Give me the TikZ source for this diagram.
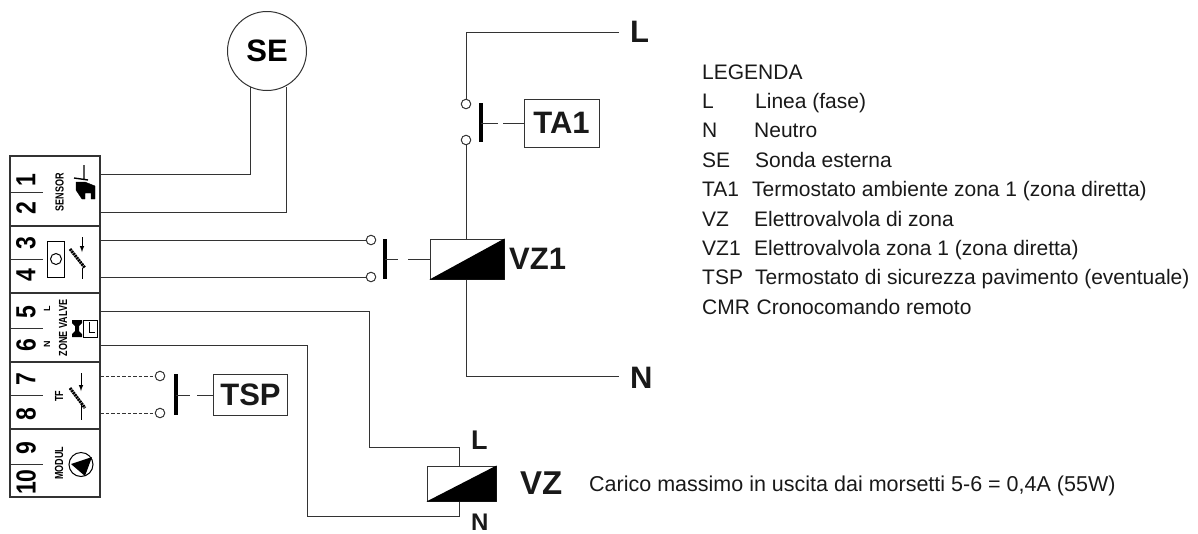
\documentclass[tikz,border=0pt]{standalone}
\usepackage{fontspec}
\setmainfont{Liberation Sans}
\newcommand{\dg}[1]{\scalebox{1}[1.2]{#1}}
\newcommand{\ts}[1]{\scalebox{1}[1.3]{#1}}
\begin{document}
\begin{tikzpicture}[x=1pt,y=-1pt,
  wire/.style={draw=black!80,line width=1pt},
  dwire/.style={draw=black!80,line width=1pt,dash pattern=on 3.5pt off 2pt},
  frame/.style={draw=black!80,line width=1.3pt},
  contact/.style={circle,draw=black!80,line width=1pt,fill=white,minimum size=9.5pt,inner sep=0pt},
  bar/.style={line width=3.5pt,black},
  big/.style={font=\fontsize{31}{31}\selectfont\bfseries,inner sep=0pt,anchor=base west,text=black!90},
  tagbox/.style={draw=black!80,line width=1pt,inner sep=0pt,font=\fontsize{31}{31}\selectfont\bfseries,text=black!90},
  coil/.style={draw=black!80,line width=1pt,inner sep=0pt,fill=white},
  leg/.style={font=\fontsize{21}{21}\selectfont,inner sep=0pt,anchor=base west,text=black!90},
  digit/.style={font=\fontsize{23}{23}\selectfont\bfseries,rotate=90,inner sep=0pt,text=black},
  tiny/.style={font=\fontsize{9}{9}\selectfont\bfseries,rotate=90,inner sep=0pt,text=black}]
\useasboundingbox (0,0) rectangle (1198,533);
% terminal block
\node[frame,minimum width=90pt,minimum height=341pt,inner sep=0pt] (block) at (55,326.5) {};
\foreach \y in {226,293,362,429} \draw[frame] (10,\y) -- (100,\y);
\foreach \y in {192,259,328,395,464} \draw[frame,line width=1pt] (10,\y) -- (43,\y);
\node[digit] (d1) at (26,180) {\dg{1}};
\node[digit] (d2) at (26,208) {\dg{2}};
\node[digit] (d3) at (26,243) {\dg{3}};
\node[digit] (d4) at (26,275) {\dg{4}};
\node[digit] (d5) at (26,312) {\dg{5}};
\node[digit] (d6) at (26,345) {\dg{6}};
\node[digit] (d7) at (26,379) {\dg{7}};
\node[digit] (d8) at (26,414) {\dg{8}};
\node[digit] (d9) at (26,448) {\dg{9}};
\node[digit] (d10) at (26,482) {\dg{10}};
% block symbols
\node[tiny] (t1) at (59.5,192) {\ts{SENSOR}};
\node[tiny] (t3) at (47,309) {L};
\node[tiny] (t4) at (47,344) {N};
\node[tiny] (t5) at (63,328) {\ts{ZONE VALVE}};
\node[tiny] (t7) at (59,396) {\ts{TF}};
\node[tiny] (t9) at (59,463) {\ts{MODUL}};
\draw[fill=black] (76,186) -- (76,182) -- (85,182) -- (95,186) -- (95,199) -- (91,199) -- (91,193) -- (85,193) -- (85,199) -- (82,199) -- (76,190) -- cycle;
\draw[line width=1.4pt] (84,165) -- (84,180) (74,178) -- (88,180);
\draw[line width=1pt] (47,241) rectangle (64,277);
\draw[line width=1pt] (56,259) circle (5.5);
\draw[line width=1pt] (82,268) -- (82,279);
\draw[line width=3pt,dash pattern=on 2pt off 0.7pt] (70,249) -- (85,268);
\draw[line width=1pt,-latex] (82,237) -- (82,252);
\draw[line width=1pt] (81,405) -- (81,420);
\draw[line width=3pt,dash pattern=on 2pt off 0.7pt] (70,388) -- (85,408);
\draw[line width=1pt,-latex] (81,373) -- (81,391);
\draw[line width=1pt] (83,320) rectangle (97,337);
\draw[line width=1pt] (89,322) -- (89,332) -- (95,332);
\fill[black] (72,320) -- (82,320) -- (82,323) -- (79,326) -- (79,331) -- (82,334) -- (82,337) -- (72,337) -- (72,334) -- (75,331) -- (75,326) -- (72,323) -- cycle;
\draw[line width=1pt] (81,464.5) circle (12);
\fill[black] (71,464) -- (92,457) -- (85,476) -- cycle;
% SE
\node[circle,draw=black!80,line width=1pt,minimum size=79pt,inner sep=0pt,font=\fontsize{31}{31}\selectfont\bfseries] (se) at (267,51) {SE};
\coordinate (s1) at (100,174);
\coordinate (s2) at (100,212);
\draw[wire] (s1) -- (250,174) -- (250,87);
\draw[wire] (s2) -- (286,212) -- (286,87);
% VZ1
\node[coil,minimum width=74pt,minimum height=40pt] (vz1) at (467,259) {};
\fill[black] (vz1.south west) -- (vz1.north east) -- (vz1.south east) -- cycle;
\node[big] (vz1t) at (509,269) {VZ1};
\node[contact] (c3) at (371,240) {};
\node[contact] (c4) at (371,277) {};
\draw[wire] (100,240) -- (c3);
\draw[wire] (100,277) -- (c4);
\draw[bar] (385,239) -- (385,279);
\draw[wire] (385,259) -- (398,259);
\draw[wire] (408,259) -- (vz1.west);
% TA1
\node[tagbox,minimum width=75pt,minimum height=48pt] (ta1) at (561.5,123) {TA1};
\node[contact] (c1) at (466,104) {};
\node[contact] (c2) at (466,140) {};
\coordinate (lend) at (619,32);
\draw[wire] (lend) -- (466,32) -- (c1);
\draw[wire] (c2) -- (vz1.north -| c2);
\draw[bar] (481,103) -- (481,142);
\draw[wire] (481,123) -- (498,123);
\draw[wire] (503,123) -- (ta1.west);
\node[big] (ll) at (630,42) {L};
\coordinate (nend) at (619,376);
\draw[wire] (vz1.south -| c2) -- (466,376) -- (nend);
\node[big] (nn) at (630,388) {N};
% TSP
\node[tagbox,minimum width=74pt,minimum height=41pt] (tsp) at (250.5,395) {TSP};
\node[contact] (c7) at (160,376) {};
\node[contact] (c8) at (160,413) {};
\draw[dwire] (100,376) -- (c7);
\draw[dwire] (100,413) -- (c8);
\draw[bar] (176,374) -- (176,415);
\draw[wire] (176,395) -- (190,395);
\draw[wire] (197,395) -- (tsp.west);
% VZ
\node[coil,minimum width=69pt,minimum height=35pt] (vz) at (461.5,483.5) {};
\fill[black] (vz.south west) -- (vz.north east) -- (vz.south east) -- cycle;
\coordinate (vzx) at (459,483);
\draw[wire] (100,311) -- (369,311) -- (369,447) -- (459,447) -- (vz.north -| vzx);
\draw[wire] (100,345) -- (307,345) -- (307,516) -- (459,516) -- (vz.south -| vzx);
\node[big,font=\fontsize{27}{27}\selectfont\bfseries] (vzl) at (471,449) {L};
\node[big,font=\fontsize{24}{24}\selectfont\bfseries] (vzn) at (471,530) {N};
\node[big,font=\fontsize{33}{33}\selectfont\bfseries] (vzt) at (520,494) {VZ};
\node[leg,font=\fontsize{21.5}{21.5}\selectfont] (carico) at (589,491) {Carico massimo in uscita dai morsetti 5-6 = 0,4A (55W)};
% legend
\node[leg] (lg0) at (702,79) {LEGENDA};
\node[leg] (lg1a) at (702,108.4) {L};  \node[leg] (lg1b) at (755,108.4) {Linea (fase)};
\node[leg] (lg2a) at (702,137.8) {N};    \node[leg] (lg2b) at (754,137.8) {Neutro};
\node[leg] (lg3a) at (702,167.2) {SE}; \node[leg] (lg3b) at (755,167.2) {Sonda esterna};
\node[leg] (lg4a) at (702,196.6) {TA1};  \node[leg] (lg4b) at (752,196.6) {Termostato ambiente zona 1 (zona diretta)};
\node[leg] (lg5a) at (702,226) {VZ}; \node[leg] (lg5b) at (754,226) {Elettrovalvola di zona};
\node[leg] (lg6a) at (702,255.4) {VZ1};  \node[leg] (lg6b) at (754,255.4) {Elettrovalvola zona 1 (zona diretta)};
\node[leg] (lg7a) at (702,284.8) {TSP};\node[leg] (lg7b) at (755,284.8) {Termostato di sicurezza pavimento (eventuale)};
\node[leg] (lg8a) at (702,314.2) {CMR};  \node[leg] (lg8b) at (756.5,314.2) {Cronocomando remoto};
\end{tikzpicture}
\end{document}
